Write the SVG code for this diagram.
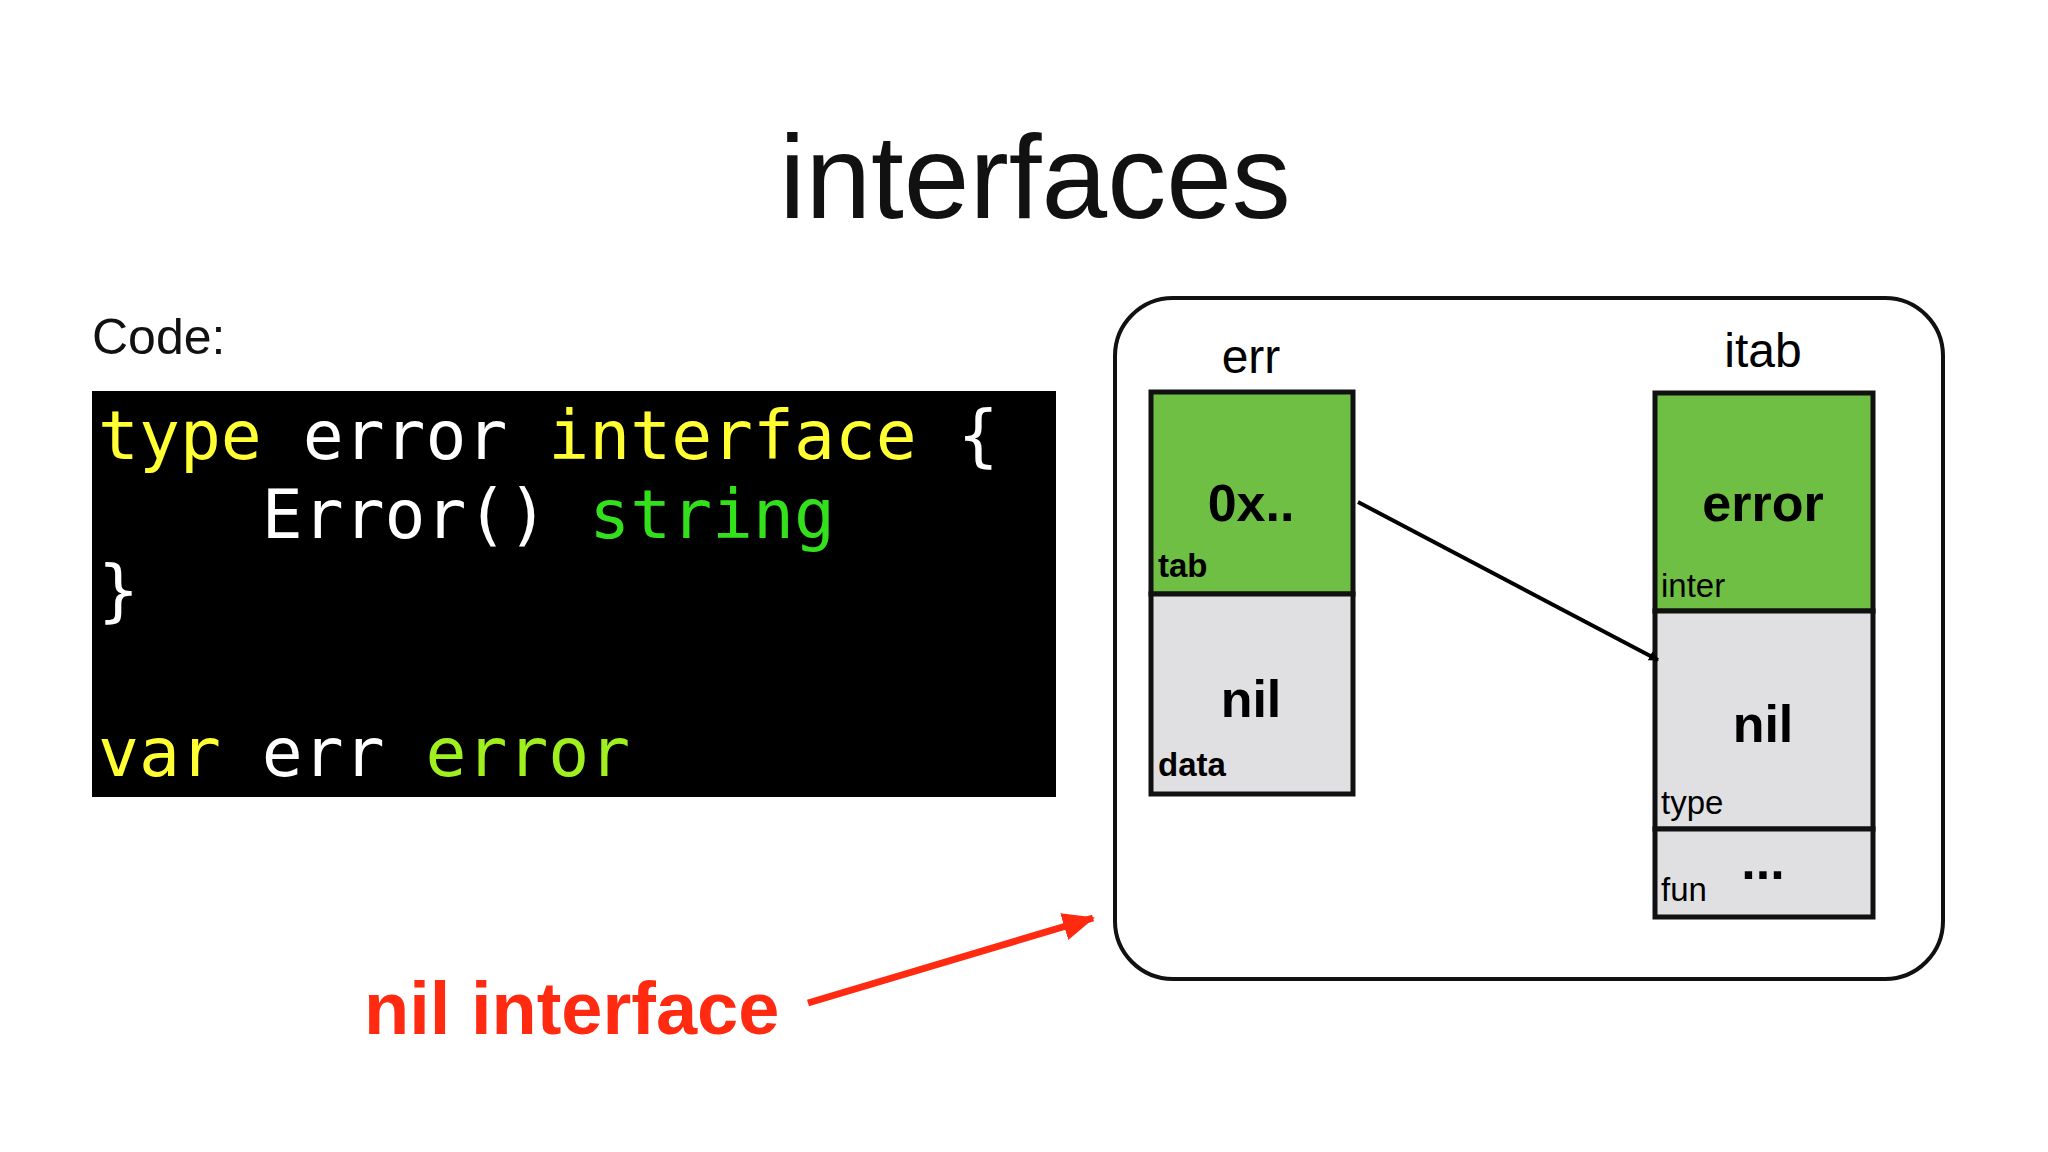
<svg xmlns="http://www.w3.org/2000/svg" width="2048" height="1152" viewBox="0 0 2048 1152">
<style>
.s{font-family:"Liberation Sans",Arial,sans-serif}
.code{font-family:"DejaVu Sans Mono",monospace;font-size:68px}
.b{font-weight:bold}
.lbl{font-family:"Liberation Sans",Arial,sans-serif;font-size:48px;text-anchor:middle}
.big{font-family:"Liberation Sans",Arial,sans-serif;font-size:52px;font-weight:bold;text-anchor:middle}
.sm{font-family:"Liberation Sans",Arial,sans-serif;font-size:33px}
.g{fill:#6fbf44;stroke:#111;stroke-width:5}
.y{fill:#e0e0e2;stroke:#111;stroke-width:5}
</style>
<defs>
<marker id="ab" markerWidth="10" markerHeight="10" refX="9" refY="5" orient="auto" markerUnits="userSpaceOnUse" viewBox="0 0 10 10"><path d="M0,0 L10,5 L0,10z" fill="#000"/></marker>
<marker id="ar" markerWidth="32" markerHeight="28" refX="30" refY="14" orient="auto" markerUnits="userSpaceOnUse"><path d="M0,0 L32,14 L0,28z" fill="#ff2a10"/></marker>
</defs>
<rect width="2048" height="1152" fill="#fff"/>
<text class="s" x="1035" y="218" font-size="118" text-anchor="middle" fill="#111">interfaces</text>
<text class="s" x="92" y="354" font-size="50" fill="#111">Code:</text>
<g id="code">
<rect x="92" y="391" width="964" height="406" fill="#000"/>
<text class="code" x="98" y="459" xml:space="preserve"><tspan fill="#ffff33">type</tspan><tspan fill="#fff"> error </tspan><tspan fill="#ffff33">interface</tspan><tspan fill="#fff"> {</tspan></text>
<text class="code" x="98" y="538" xml:space="preserve"><tspan fill="#fff">    Error() </tspan><tspan fill="#33e01c">string</tspan></text>
<text class="code" x="98" y="614" fill="#fff">}</text>
<text class="code" x="98" y="776" xml:space="preserve"><tspan fill="#ffff33">var</tspan><tspan fill="#fff"> err </tspan><tspan fill="#9ff01e">error</tspan></text>
</g>
<g id="frame"><rect x="1115" y="298" width="828" height="681" rx="58" fill="#fff" stroke="#111" stroke-width="4"/></g>
<g id="err">
<text class="lbl" x="1251" y="373">err</text>
<rect class="g" x="1151" y="392" width="202" height="202"/>
<rect class="y" x="1151" y="594" width="202" height="200"/>
<text class="big" x="1251" y="521">0x..</text>
<text class="sm b" x="1158" y="577">tab</text>
<text class="big" x="1251" y="717">nil</text>
<text class="sm b" x="1158" y="776">data</text>
</g>
<g id="itab">
<text class="lbl" x="1763" y="367">itab</text>
<rect class="g" x="1655" y="393" width="218" height="218"/>
<rect class="y" x="1655" y="611" width="218" height="218"/>
<rect class="y" x="1655" y="829" width="218" height="88"/>
<text class="big" x="1763" y="521">error</text>
<text class="sm" x="1661" y="597">inter</text>
<text class="big" x="1763" y="742">nil</text>
<text class="sm" x="1661" y="814">type</text>
<text class="sm" x="1661" y="901">fun</text>
<text class="big" x="1763" y="879">...</text>
</g>
<g id="label"><text class="s b" x="364" y="1034" font-size="74" fill="#ff2a10">nil interface</text></g>
<g id="connectors">
<line x1="1358" y1="502" x2="1658" y2="660" stroke="#000" stroke-width="4" marker-end="url(#ab)"/>
<line x1="808" y1="1003" x2="1093" y2="918" stroke="#ff2a10" stroke-width="7" marker-end="url(#ar)"/>
</g>
</svg>
